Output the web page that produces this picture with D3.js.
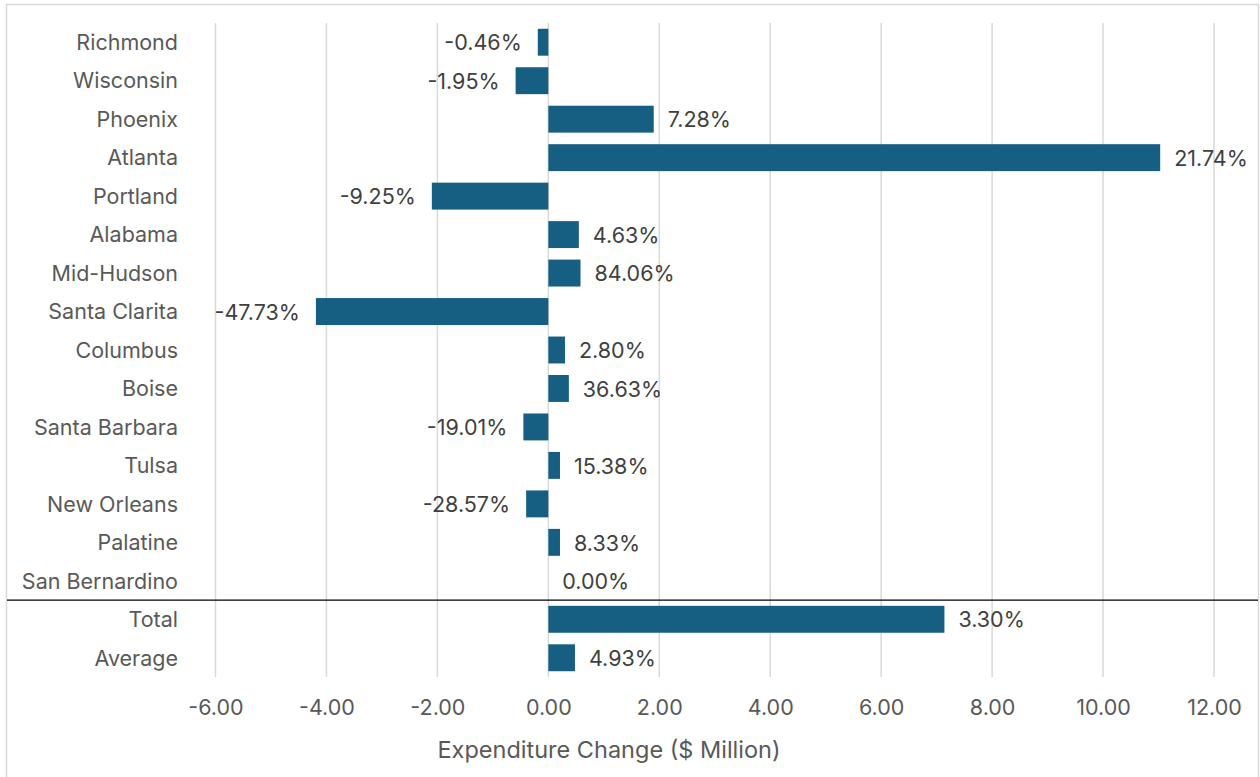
<!DOCTYPE html>
<html>
<head>
<meta charset="utf-8">
<script src="https://cdn.jsdelivr.net/npm/d3@7/dist/d3.min.js"></script>
<style>
  html, body { margin: 0; padding: 0; background: #ffffff; }
  svg { display: block; font-family: Inter, "Open Sans", sans-serif; }
</style>
</head>
<body>
<svg id="chart" width="1260" height="777"></svg>
<script>
// Regions, expenditure change ($ Million) and percentage change labels
const categories = ["Richmond", "Wisconsin", "Phoenix", "Atlanta", "Portland", "Alabama",
  "Mid-Hudson", "Santa Clarita", "Columbus", "Boise", "Santa Barbara", "Tulsa",
  "New Orleans", "Palatine", "San Bernardino", "Total", "Average"];
const changeValues = [-0.19, -0.59, 1.90, 11.03, -2.10, 0.55, 0.58, -4.19, 0.30, 0.37,
  -0.45, 0.21, -0.40, 0.21, 0.00, 7.14, 0.48];
const pctLabels = ["-0.46%", "-1.95%", "7.28%", "21.74%", "-9.25%", "4.63%", "84.06%",
  "-47.73%", "2.80%", "36.63%", "-19.01%", "15.38%", "-28.57%", "8.33%", "0.00%",
  "3.30%", "4.93%"];
const tickValues = [-6, -4, -2, 0, 2, 4, 6, 8, 10, 12];
const axisTitle = "Expenditure Change ($ Million)";

const rows = categories.map((c, i) => ({ name: c, value: changeValues[i], label: pctLabels[i] }));

const svg = d3.select("#chart");

// Chart frame
svg.append("rect")
  .attr("x", 6.5).attr("y", 4.5)
  .attr("width", 1252).attr("height", 800)
  .attr("fill", "#ffffff")
  .attr("stroke", "#d9d9d9").attr("stroke-width", 1.5);

const x = d3.scaleLinear().domain([-6, 12]).range([215.5, 1214]);
const y = d3.scaleBand().domain(categories).range([23, 677])
  .paddingInner(0.3).paddingOuter(0.15);

// Vertical gridlines
svg.append("g")
  .selectAll("line")
  .data(tickValues)
  .join("line")
  .attr("x1", d => x(d)).attr("x2", d => x(d))
  .attr("y1", 23).attr("y2", 677)
  .attr("stroke", "#d9d9d9").attr("stroke-width", 1.5);

// Tick number format with a plain hyphen for negatives
const tickFmt = d3.formatLocale({ decimal: ".", thousands: ",", grouping: [3], currency: ["$", ""], minus: "-" }).format(".2f");

// X axis tick labels
const xAxis = d3.axisBottom(x).tickValues(tickValues).tickFormat(tickFmt).tickSize(0).tickPadding(0);
const gx = svg.append("g").attr("transform", "translate(0,700)").call(xAxis);
gx.select(".domain").remove();
gx.selectAll("text")
  .attr("font-family", "Inter, 'Open Sans', sans-serif")
  .attr("font-size", 21.5)
  .attr("fill", "#595959")
  .attr("dy", "0.72em");

// Category labels
const yAxis = d3.axisLeft(y).tickSize(0).tickPadding(0);
const gy = svg.append("g").attr("transform", "translate(178,0)").call(yAxis);
gy.select(".domain").remove();
gy.selectAll("text")
  .attr("font-family", "Inter, 'Open Sans', sans-serif")
  .attr("font-size", 21.5)
  .attr("fill", "#595959")
  .attr("dy", "0.36em");

// Bars
svg.append("g")
  .selectAll("rect")
  .data(rows.filter(d => d.value !== 0))
  .join("rect")
  .attr("x", d => x(Math.min(0, d.value)))
  .attr("y", d => y(d.name))
  .attr("width", d => Math.abs(x(d.value) - x(0)))
  .attr("height", y.bandwidth())
  .attr("fill", "#175f82");

// Data labels (percentage change)
svg.append("g")
  .selectAll("text")
  .data(rows)
  .join("text")
  .attr("x", d => d.value < 0 ? x(d.value) - 16 : x(d.value) + 14)
  .attr("y", d => y(d.name) + y.bandwidth() / 2)
  .attr("dy", "0.38em")
  .attr("text-anchor", d => d.value < 0 ? "end" : "start")
  .attr("font-size", 21.5)
  .attr("fill", "#404040")
  .text(d => d.label);

// Separator between regions and summary rows
const sepY = y("Total") - y.step() * y.paddingInner() / 2;
svg.append("line")
  .attr("x1", 7).attr("x2", 1258)
  .attr("y1", sepY).attr("y2", sepY)
  .attr("stroke", "#000000").attr("stroke-width", 1.3);

// Axis title
svg.append("text")
  .attr("x", 609).attr("y", 758)
  .attr("text-anchor", "middle")
  .attr("font-size", 23.5)
  .attr("fill", "#595959")
  .text(axisTitle);
</script>
</body>
</html>
